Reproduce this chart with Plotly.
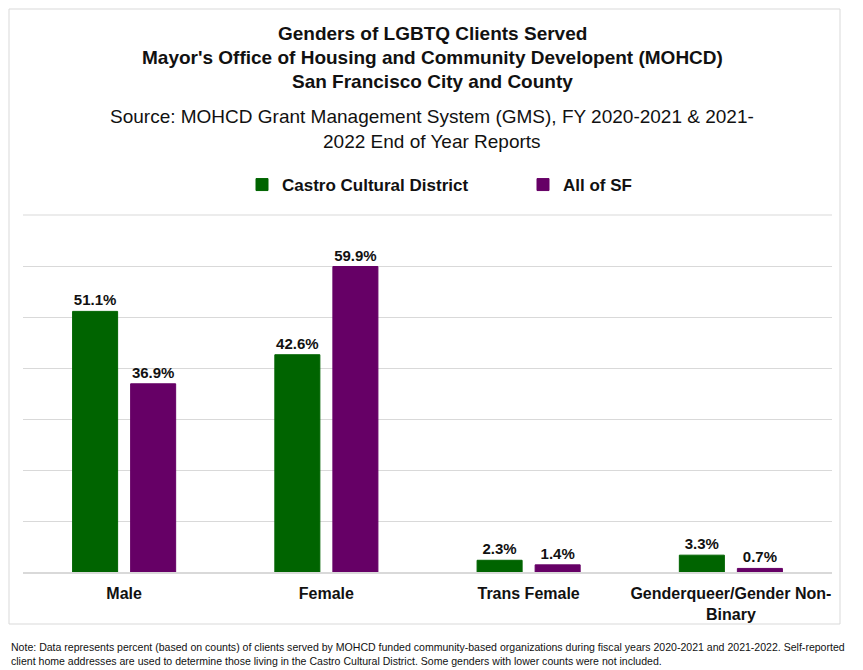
import plotly.graph_objects as go

categories = ["Male", "Female", "Trans Female", "Genderqueer/Gender Non-Binary"]
tick_labels = ["<b>Male</b>", "<b>Female</b>", "<b>Trans Female</b>",
               "<b>Genderqueer/Gender Non-</b><br><b>Binary</b>"]
castro = [51.1, 42.6, 2.3, 3.3]
all_sf = [36.9, 59.9, 1.4, 0.7]

FONT = "Liberation Sans Narrow, Arial Narrow, Liberation Sans, Arial, sans-serif"
GREEN = "#006400"
PURPLE = "#660066"

# page has an 8px body margin; figure sized to fit the window
OFF = 8
FW, FH = 863 - OFF, 670 - OFF
# plot area in page pixels
L, R, T, B = 23, 832, 215, 572
W = R - L
H = B - T

def px(x):
    return (x - L) / W

def py(y):
    return (B - y) / H

fig = go.Figure()
fig.add_trace(go.Bar(
    x=categories, y=castro, name="<b>Castro Cultural District</b>",
    marker=dict(color=GREEN, line=dict(color=GREEN, width=1)),
    text=[f"{v:.1f}%" for v in castro], textposition="outside",
    texttemplate="<b>%{text}</b>",
    textfont=dict(family=FONT, size=15, color="#111"),
    cliponaxis=False,
))
fig.add_trace(go.Bar(
    x=categories, y=all_sf, name="<b>All of SF</b>",
    marker=dict(color=PURPLE, line=dict(color=PURPLE, width=1)),
    text=[f"{v:.1f}%" for v in all_sf], textposition="outside",
    texttemplate="<b>%{text}</b>",
    textfont=dict(family=FONT, size=15, color="#111"),
    cliponaxis=False,
))

title_lines = [
    ("<b>Genders of LGBTQ Clients Served</b>", 33),
    ("<b>Mayor's Office of Housing and Community Developent (MOHCD)</b>", 57),
    ("<b>San Francisco City and County</b>", 81),
    ("Source: MOHCD Grant Management System (GMS), FY 2020-2021 & 2021-", 116),
    ("2022 End of Year Reports", 141),
]
annotations = []
for txt, ypx in title_lines:
    annotations.append(dict(
        text=txt, x=px(432), y=py(ypx),
        xref="paper", yref="paper", xanchor="center", yanchor="middle",
        showarrow=False, font=dict(family=FONT, size=19, color="#111"),
    ))
annotations.append(dict(
    text="Note: Data represents percent (based on counts) of clients served by MOHCD funded community-based organizations during fiscal years 2020-2021 and 2021-2022. Self-reported<br>client home addresses are used to determine those living in the Castro Cultural District. Some genders with lower counts were not included.",
    x=px(9), y=py(654),
    xref="paper", yref="paper", xanchor="left", yanchor="middle", align="left",
    showarrow=False, font=dict(family=FONT, size=10.55, color="#111"),
))

fig.update_layout(
    width=FW, height=FH,
    margin=dict(l=L - OFF, r=FW - (R - OFF), t=T - OFF, b=FH - (B - OFF), autoexpand=False),
    paper_bgcolor="white", plot_bgcolor="white",
    barmode="group", bargap=0.426, bargroupgap=0.224,
    font=dict(family=FONT, color="#111"),
    showlegend=True,
    legend=dict(
        orientation="h", x=px(242), xanchor="left",
        y=py(185), yanchor="middle",
        font=dict(family=FONT, size=17, color="#111"),
        itemwidth=30, entrywidth=236, entrywidthmode="pixels",
        traceorder="normal",
    ),
    xaxis=dict(
        automargin=False,
        tickmode="array", tickvals=categories, ticktext=tick_labels,
        tickfont=dict(family=FONT, size=16, color="#111"),
        ticklabelstandoff=6,
        showline=True, linecolor="#d9d9d9", linewidth=2,
        ticks="", showgrid=False,
    ),
    yaxis=dict(
        automargin=False,
        range=[0, 70], dtick=10, showticklabels=False,
        showgrid=True, gridcolor="#d9d9d9", gridwidth=1,
        zeroline=False, ticks="",
    ),
    annotations=annotations,
    shapes=[
        dict(
            type="rect", xref="paper", yref="paper",
            x0=px(OFF + 1), x1=px(840), y0=py(624), y1=py(OFF + 1),
            line=dict(color="#d9d9d9", width=1), fillcolor="rgba(0,0,0,0)",
            layer="below",
        ),
        dict(
            type="line", xref="paper", yref="paper",
            x0=0, x1=1, y0=1, y1=1,
            line=dict(color="#d9d9d9", width=1), layer="below",
        ),
    ],
)

fig.write_html("out.html")
